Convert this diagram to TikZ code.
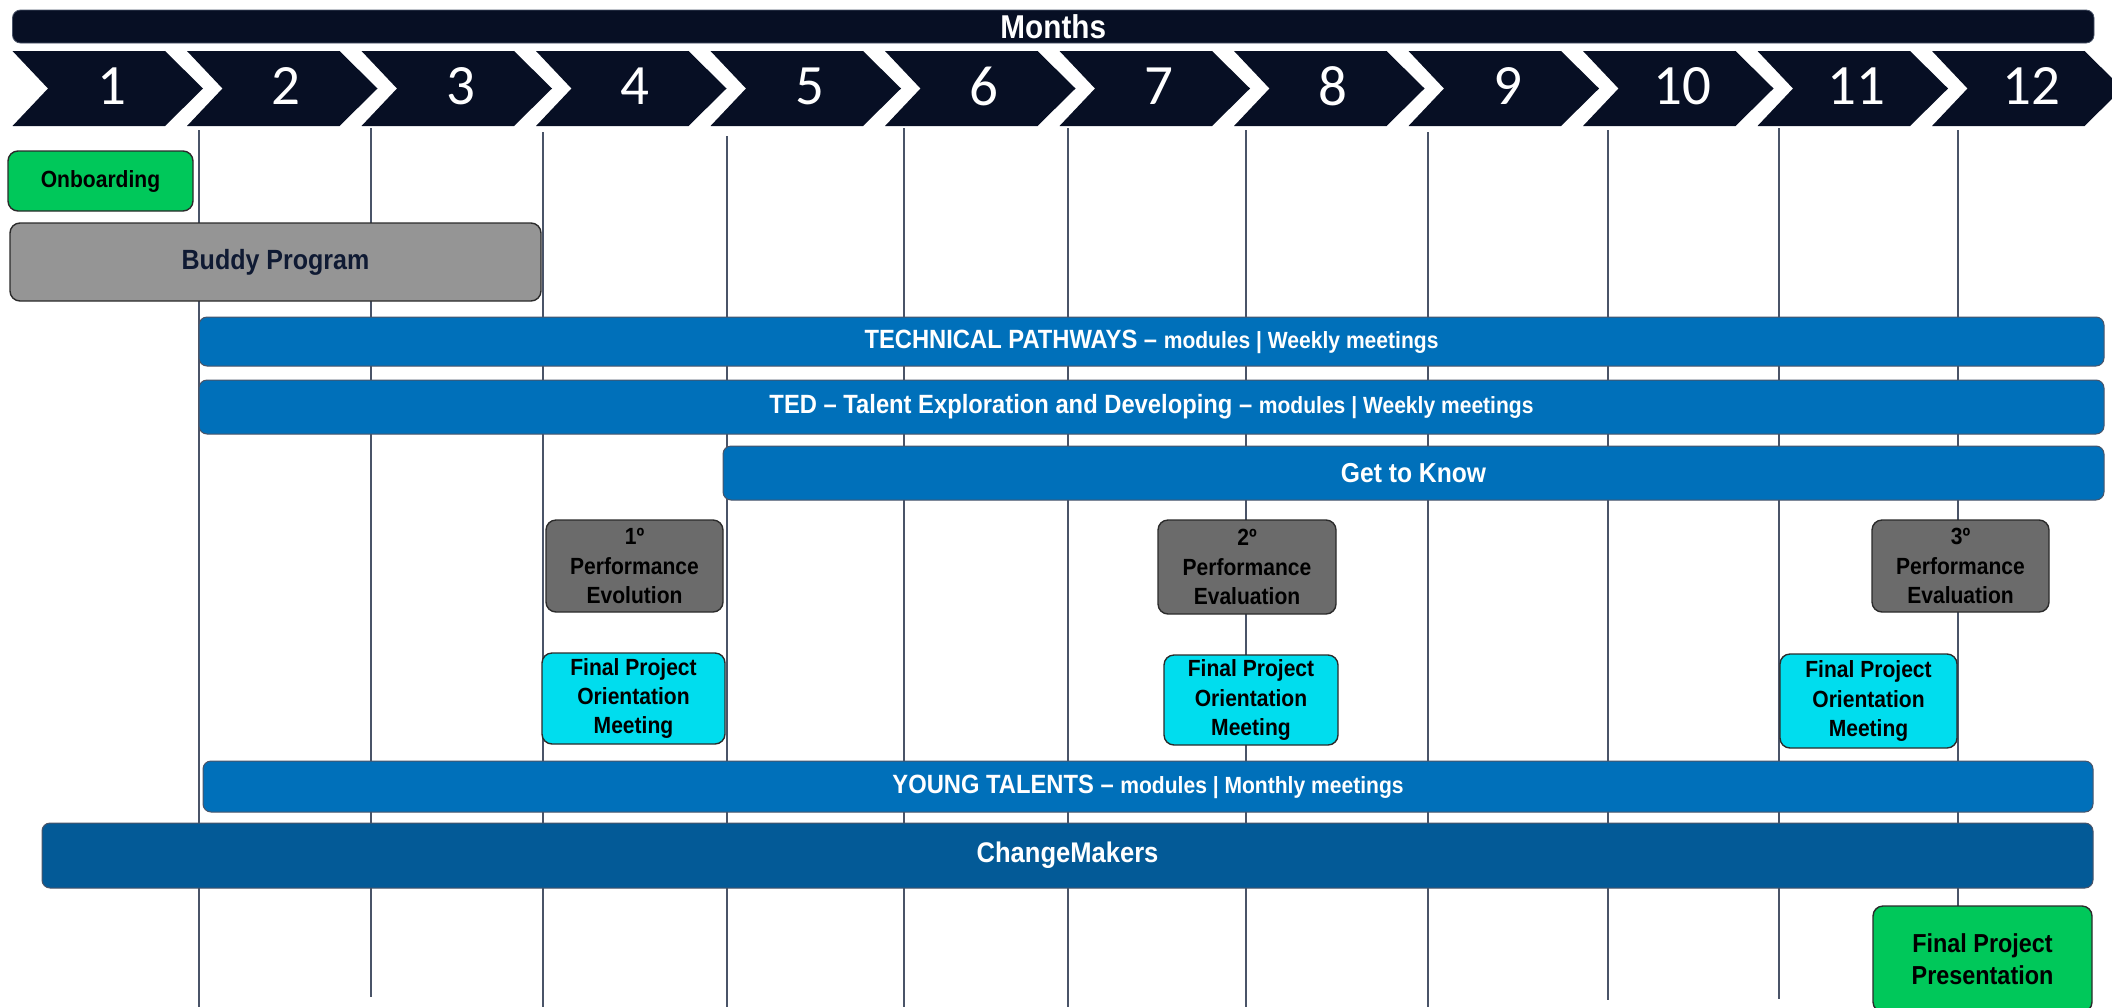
\documentclass[tikz,border=0pt]{standalone}
\usepackage{fontspec}
\setmainfont{Liberation Sans}[FakeStretch=0.9]
\newfontfamily\numfont{Carlito}

\definecolor{navy}{HTML}{070F24}
\definecolor{barblue}{HTML}{0070BA}
\definecolor{darkblue}{HTML}{035A97}
\definecolor{onbgreen}{HTML}{00C85A}
\definecolor{buddygray}{HTML}{959595}
\definecolor{buddytext}{HTML}{0F1A33}
\definecolor{evalgray}{HTML}{6B6B6B}
\definecolor{meetcyan}{HTML}{00DDEE}
\definecolor{gridgray}{HTML}{4A5468}
\definecolor{boxline}{HTML}{2B2B2B}

\newcommand\detailfont{\fontsize{11.7}{14}\selectfont}
% box from (x1,y1) to (x2,y2), in pixels of the chart
\def\tbox[#1](#2,#3)(#4,#5)#6#7{\node[#1, minimum width={(#4-#2)*0.5pt}, minimum height={(#5-#3)*0.5pt}] (#6) at ({(#2+#4)/2},{(#3+#5)/2}) {#7};}

\tikzset{
  grid line/.style={draw=gridgray, line width=0.7pt},
  taskbox/.style={draw=boxline, line width=0.7pt, rounded corners=5pt, inner sep=0pt,
    align=center, font=\bfseries\fontsize{11.7}{14.7}\selectfont},
  barbox/.style={draw=gridgray, line width=0.5pt, rounded corners=4pt, inner sep=0pt,
    text=white, font=\bfseries\fontsize{13.2}{15}\selectfont},
  monthnum/.style={text=white, font=\numfont\fontsize{28.5}{30}\selectfont, inner sep=0pt},
}

\begin{document}
\begin{tikzpicture}[x=0.5pt,y=-0.5pt]
  %%%%% START %%%%%
  \def\chw{152.5}
  \def\tip{38}
  \def\notch{35.5}
  \def\chh{37.5}
  \def\period{174.5}

  \clip (0,0) rectangle (2112,1007);

  % month separators
  \foreach \x/\ya/\yb in {199/130/1007, 371/128/997, 543/132/1007, 727/136/1007,
      904/128/1007, 1068/128/1007, 1246/130/1007, 1428/132/1007,
      1608/130/1000, 1779/128/999, 1958/130/1007}
    \draw[grid line] (\x,\ya) -- (\x,\yb);

  % header
  \tbox[fill=navy, draw=gridgray, line width=0.4pt, rounded corners=4pt, inner sep=0pt,
    text=white, font=\bfseries\fontsize{16.5}{18}\selectfont](12.5,10)(2094,43){months}{Months}

  \foreach \m in {1,...,12}{
    \pgfmathsetmacro\xl{12.5+(\m-1)*\period}
    \fill[navy] (\xl,51) -- ++(\chw,0) -- ++(\tip,\chh) -- ++(-\tip,\chh) -- ++(-\chw,0) -- ++(\notch,-\chh) -- cycle;
    \node[monthnum] (m\m) at (\xl+99,86) {\m};
  }

  % activities
  \tbox[taskbox, fill=onbgreen](8,151)(193,211){onboard}{Onboarding}
  \tbox[taskbox, fill=buddygray, text=buddytext,
    font=\bfseries\fontsize{13.9}{16}\selectfont](10,223)(541,301){buddy}{Buddy Program}

  \tbox[barbox, fill=barblue](199,317)(2104,366){tech}
    {TECHNICAL PATHWAYS -- {\detailfont modules | Weekly meetings}}
  \tbox[barbox, fill=barblue](199,380)(2104,434){ted}
    {TED -- Talent Exploration and Developing -- {\detailfont modules | Weekly meetings}}
  \tbox[barbox, fill=barblue, font=\bfseries\fontsize{13.7}{15}\selectfont](723,446)(2104,500){gtk}{Get to Know}

  \tbox[taskbox, fill=evalgray](546,520)(723,612){perf1}{1º\\Performance\\Evolution}
  \tbox[taskbox, fill=evalgray](1158,520)(1336,614){perf2}{2º\\Performance\\Evaluation}
  \tbox[taskbox, fill=evalgray](1872,520)(2049,612){perf3}{3º\\Performance\\Evaluation}

  \tbox[taskbox, fill=meetcyan](542,653)(725,744){meet1}{Final Project\\Orientation\\Meeting}
  \tbox[taskbox, fill=meetcyan](1164,655)(1338,745){meet2}{Final Project\\Orientation\\Meeting}
  \tbox[taskbox, fill=meetcyan](1780,654)(1957,748){meet3}{Final Project\\Orientation\\Meeting}

  \tbox[barbox, fill=barblue](203,761)(2093,812){young}
    {YOUNG TALENTS -- {\detailfont modules | Monthly meetings}}
  \tbox[barbox, fill=darkblue, font=\bfseries\fontsize{14.2}{16}\selectfont](42,823)(2093,888){change}{ChangeMakers}

  \tbox[taskbox, fill=onbgreen, font=\bfseries\fontsize{13}{16}\selectfont](1873,906)(2092,1012){final}{Final Project\\Presentation}
  %%%%% END %%%%%
\end{tikzpicture}
\end{document}
